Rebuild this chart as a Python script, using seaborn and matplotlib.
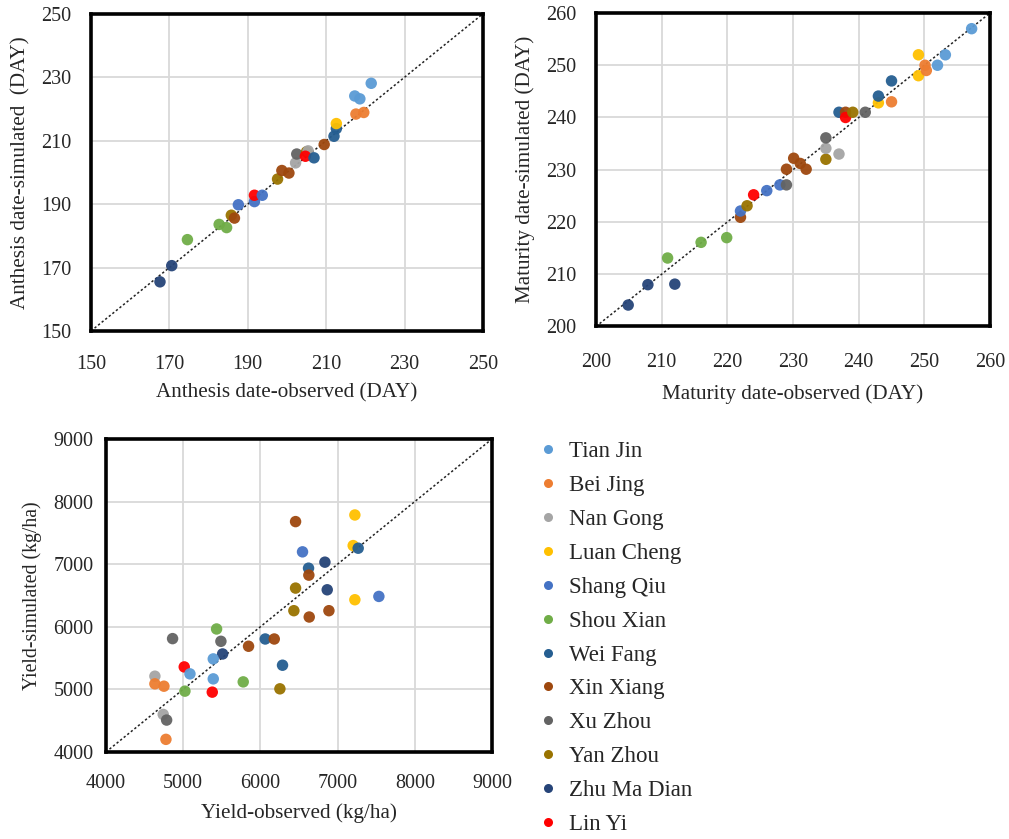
import matplotlib
matplotlib.use("Agg")
import matplotlib.pyplot as plt
import seaborn as sns
import pandas as pd
from matplotlib.lines import Line2D

sns.set_style("white")
plt.rcParams['font.family'] = ['Liberation Serif', 'DejaVu Serif']

sites = ["Tian Jin", "Bei Jing", "Nan Gong", "Luan Cheng", "Shang Qiu", "Shou Xian",
         "Wei Fang", "Xin Xiang", "Xu Zhou", "Yan Zhou", "Zhu Ma Dian", "Lin Yi"]
colors = ["#5B9BD5", "#ED7D31", "#A5A5A5", "#FFC000", "#4472C4", "#70AD47",
          "#255E91", "#9E480E", "#636363", "#997300", "#264478", "#FF0000"]

# Anthesis date (DAY)
ant_site = ["Zhu Ma Dian", "Zhu Ma Dian", "Shou Xian", "Shou Xian", "Shou Xian",
            "Yan Zhou", "Xin Xiang", "Shang Qiu", "Shang Qiu", "Lin Yi", "Shang Qiu",
            "Yan Zhou", "Xin Xiang", "Xin Xiang", "Nan Gong", "Xu Zhou", "Yan Zhou",
            "Nan Gong", "Lin Yi", "Wei Fang", "Xin Xiang", "Wei Fang", "Wei Fang",
            "Luan Cheng", "Bei Jing", "Bei Jing", "Tian Jin", "Tian Jin", "Tian Jin"]
ant_obs = [167.6, 170.6, 174.6, 182.7, 184.6,
           185.8, 186.6, 187.6, 191.7, 191.7, 193.7,
           197.6, 198.7, 200.5, 202.2, 202.5, 205.0,
           205.4, 204.7, 206.9, 209.5, 212.0, 212.6,
           212.6, 217.6, 219.6, 217.3, 218.6, 221.5]
ant_sim = [165.5, 170.6, 178.8, 183.6, 182.6,
           186.5, 185.6, 189.8, 190.8, 192.8, 192.8,
           197.9, 200.6, 199.8, 203.0, 205.8, 206.5,
           206.8, 205.1, 204.6, 208.8, 211.4, 213.8,
           215.4, 218.4, 218.9, 224.1, 223.2, 228.1]

# Maturity date (DAY)
mat_site = ["Zhu Ma Dian", "Zhu Ma Dian", "Zhu Ma Dian", "Shou Xian", "Shou Xian",
            "Shou Xian", "Xin Xiang", "Shang Qiu", "Yan Zhou", "Lin Yi", "Shang Qiu",
            "Shang Qiu", "Xu Zhou", "Xin Xiang", "Xin Xiang", "Xin Xiang", "Xin Xiang",
            "Yan Zhou", "Nan Gong", "Xu Zhou", "Nan Gong", "Wei Fang", "Xin Xiang",
            "Lin Yi", "Yan Zhou", "Xu Zhou", "Luan Cheng", "Wei Fang", "Wei Fang",
            "Bei Jing", "Luan Cheng", "Luan Cheng", "Bei Jing", "Bei Jing",
            "Tian Jin", "Tian Jin", "Tian Jin"]
mat_obs = [204.9, 207.9, 212.0, 210.9, 216.0,
           219.9, 222.0, 222.0, 223.0, 224.0, 226.0,
           228.0, 229.0, 229.0, 230.1, 231.1, 232.0,
           235.0, 235.0, 235.0, 237.0, 237.0, 238.0,
           238.0, 239.1, 241.0, 243.0, 243.0, 245.0,
           245.0, 249.1, 249.1, 250.1, 250.3,
           252.0, 253.2, 257.2]
mat_sim = [204.1, 208.0, 208.1, 213.1, 216.1,
           217.0, 220.9, 222.1, 223.1, 225.2, 226.0,
           227.1, 227.1, 230.1, 232.2, 231.2, 230.1,
           232.0, 234.1, 236.1, 233.0, 241.0, 241.0,
           240.0, 241.0, 241.0, 242.8, 244.1, 247.0,
           243.0, 252.0, 248.0, 250.0, 249.0,
           250.0, 252.0, 257.0]

# Yield (kg/ha)
yld_site = ["Luan Cheng", "Luan Cheng", "Luan Cheng", "Xin Xiang", "Shang Qiu",
            "Wei Fang", "Wei Fang", "Xin Xiang", "Zhu Ma Dian", "Zhu Ma Dian",
            "Shang Qiu", "Yan Zhou", "Yan Zhou", "Xin Xiang", "Xin Xiang",
            "Shou Xian", "Xu Zhou", "Xu Zhou", "Wei Fang", "Xin Xiang", "Xin Xiang",
            "Zhu Ma Dian", "Tian Jin", "Lin Yi", "Tian Jin", "Wei Fang", "Tian Jin",
            "Shou Xian", "Yan Zhou", "Shou Xian", "Lin Yi", "Nan Gong", "Bei Jing",
            "Bei Jing", "Nan Gong", "Xu Zhou", "Bei Jing"]
yld_obs = [7224, 7202, 7224, 6456, 6546,
           7267, 6624, 6628, 6836, 6866,
           7535, 6456, 6434, 6633, 6888,
           5433, 4863, 5489, 6063, 6180, 5847,
           5511, 5390, 5014, 5088, 6287, 5390,
           5778, 6253, 5023, 5377, 4634, 4634,
           4751, 4742, 4786, 4777]
yld_sim = [7786, 7297, 6432, 7680, 7197,
           7255, 6936, 6825, 7032, 6591,
           6485, 6618, 6257, 6156, 6257,
           5965, 5811, 5768, 5805, 5805, 5689,
           5566, 5487, 5359, 5248, 5386, 5168,
           5120, 5009, 4972, 4956, 5211, 5089,
           5051, 4600, 4510, 4202]

fig = plt.figure(figsize=(10.09, 8.39), dpi=100)
ax1 = fig.add_axes([0.0902, 0.6055, 0.3884, 0.3780])
ax2 = fig.add_axes([0.5907, 0.6109, 0.3905, 0.3736])
ax3 = fig.add_axes([0.1050, 0.1037, 0.3826, 0.3731])

panels = [
    (ax1, ant_site, ant_obs, ant_sim, (150, 250), list(range(150, 251, 20)),
     "Anthesis date-observed (DAY)", "Anthesis date-simulated  (DAY)", 17, 14, 7, 15.2),
    (ax2, mat_site, mat_obs, mat_sim, (200, 260), list(range(200, 261, 10)),
     "Maturity date-observed (DAY)", "Maturity date-simulated (DAY)", 19, 14, 9, 15.2),
    (ax3, yld_site, yld_obs, yld_sim, (4000, 9000), list(range(4000, 9001, 1000)),
     "Yield-observed (kg/ha)", "Yield-simulated (kg/ha)", 16, 9, 7, 14.2),
]

pal = dict(zip(sites, colors))
for ax, s, o, m, lim, ticks, xl, yl, xpad, ypad, lpad, ysize in panels:
    df = pd.DataFrame({"site": s, "obs": o, "sim": m})
    ax.plot(lim, lim, linestyle=(0, (1.5, 1.5)), color="#222222", lw=1.1, zorder=2)
    sns.scatterplot(data=df, x="obs", y="sim", hue="site", hue_order=sites,
                    palette=pal, s=68, linewidth=0, alpha=0.95, legend=False,
                    ax=ax, zorder=3)
    ax.set_xlim(lim)
    ax.set_ylim(lim)
    ax.set_xticks(ticks)
    ax.set_yticks(ticks)
    ax.grid(True, color="#d9d9d9", lw=1.3)
    ax.set_axisbelow(True)
    for sp in ax.spines.values():
        sp.set_color("black")
        sp.set_linewidth(2.6)
    ax.tick_params(axis="x", labelsize=14.5, pad=xpad, length=0)
    ax.tick_params(axis="y", labelsize=14.5, pad=ypad, length=0)
    ax.set_xlabel(xl, fontsize=15.2, labelpad=lpad)
    ax.set_ylabel(yl, fontsize=ysize, labelpad=8)

handles = [Line2D([0], [0], marker="o", linestyle="", markersize=6.5,
                  markerfacecolor=c, markeredgewidth=0) for c in colors]
fig.legend(handles, sites, loc="upper left", bbox_to_anchor=(0.523, 0.485),
           frameon=False, fontsize=16.5, handletextpad=0.4, labelspacing=0.56,
           handlelength=1.0, borderaxespad=0)

fig.savefig("out.png", dpi=100)
